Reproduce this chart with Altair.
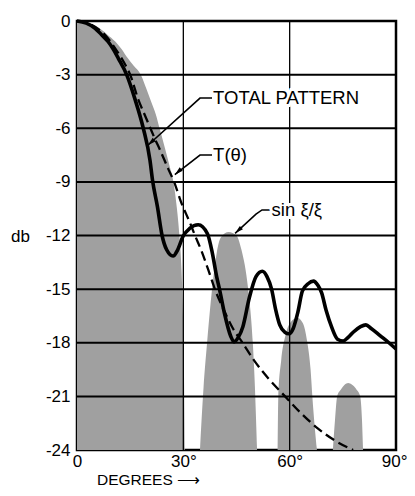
import altair as alt
import pandas as pd

# ---------------- data ----------------
# shaded sin(xi)/xi lobes (degrees, db)
lobe1_deg = [0, 3, 5.5, 8.5, 10.8, 12.5, 14.4, 16.0, 18.0, 19.6, 20.9, 22.2, 23.3, 24.8, 26.1, 27.2, 28.2, 28.9, 29.5, 29.9, 30.2, 30.4]
lobe1_db = [0, -0.1, -0.3, -0.75, -1.15, -1.55, -2.1, -2.5, -3.0, -3.8, -4.5, -5.2, -6.0, -7.1, -8.1, -9.0, -10.5, -12, -14, -16.5, -20, -24]
lobe2_deg = [34.7, 35.7, 36.7, 38.1, 39.4, 40.6, 42.8, 45.0, 46.4, 48.3, 49.6, 50.2, 50.8]
lobe2_db = [-24, -20.5, -18, -15, -13, -12.1, -11.8, -12.0, -12.8, -15, -18, -20.5, -24]
lobe3_deg = [56.6, 56.8, 57.6, 58.8, 60.5, 62.1, 63.7, 65.0, 65.9, 66.4, 67.7]
lobe3_db = [-24, -21, -19, -17.6, -16.8, -16.6, -16.9, -18, -19.5, -21, -24]
lobe4_deg = [72.2, 72.8, 73.4, 74.5, 75.5, 76.5, 77.6, 78.8, 79.9, 80.4, 80.7]
lobe4_db = [-24, -22.3, -21, -20.6, -20.35, -20.25, -20.35, -20.6, -21, -22.3, -24]

# total pattern (solid)
total_deg = [0, 2.6, 5.1, 7.0, 8.8, 10.3, 11.65, 14.0, 16.4, 18.7, 20.6, 21.3, 22.7, 24.0, 25.3, 27.1, 28.4, 29.9, 31.8, 34.2,
             36.8, 38.2, 39.4, 40.2, 41.6, 43.4, 44.3, 45.5, 46.8, 48.6, 50.5, 52.3, 53.6, 54.9, 56.0, 57.2, 58.6, 59.8,
             61.0, 62.3, 63.6, 65.2, 66.7, 68.0, 69.0, 70.3, 71.8, 73.5, 75.1, 76.5, 78.0, 80.0, 81.5, 83.0, 85.5, 88.0, 90.0]
total_db = [0, -0.12, -0.41, -0.78, -1.16, -1.6, -2.09, -3.0, -4.4, -6.0, -7.8, -8.9, -10.4, -12.0, -12.8, -13.15, -12.8, -12.05, -11.6, -11.4,
            -11.9, -13.0, -14.3, -15.0, -16.35, -17.65, -17.95, -17.7, -17.1, -15.5, -14.3, -14.0, -14.3, -15.0, -16.1, -17.0, -17.4, -17.5,
            -17.2, -16.3, -15.1, -14.7, -14.55, -14.8, -15.2, -16.2, -17.1, -17.8, -17.9, -17.7, -17.4, -17.1, -17.0, -17.2, -17.6, -18.0, -18.35]

# T(theta) (dashed)
t_deg = [0, 4, 8, 11, 13.2, 15.0, 17.3, 19.0, 20.6, 22.0, 23.4, 25.8, 27.2, 29.5, 31.9, 33.3, 35.2, 37.0, 38.9, 41.5, 44.0,
         46.7, 50, 54, 58.7, 63, 68, 73, 77.9]
t_db = [0, -0.2, -0.8, -1.6, -2.3, -3.0, -4.4, -5.2, -5.95, -6.6, -7.2, -8.3, -8.9, -10.2, -11.3, -12.0, -12.9, -13.9, -15.0, -16.2, -17.2,
        -18.0, -19.0, -20.0, -21.0, -21.9, -22.8, -23.5, -24.0]

# axis ticks / grid
x_ticks = [0, 30, 60, 90]
y_ticks = [0, -3, -6, -9, -12, -15, -18, -21, -24]
x_grid = [30, 60]
y_grid = [-3, -6, -9, -12, -15, -18, -21]

# annotations
ann_labels = ["TOTAL PATTERN", "T(θ)", "sin ξ/ξ"]
ann_deg = [38.4, 38.4, 54.9]
ann_db = [-4.31, -7.5, -10.57]
leader_id = ["a", "a", "a", "b", "b", "b", "c", "c", "c", "c"]
leader_deg = [38.1, 34.7, 20.0, 38.1, 34.7, 27.6, 54.7, 52.2, 50.5, 44.6]
leader_db = [-4.31, -4.31, -6.95, -7.5, -7.5, -8.6, -10.57, -10.57, -10.8, -11.88]
arrow_deg = [20.0, 27.6, 44.6]
arrow_db = [-6.95, -8.6, -11.88]
arrow_ang = [227.9, 228.6, 227.9]

# ---------------- tables ----------------
rows = []
for name, xs_, ys_ in [("1", lobe1_deg, lobe1_db), ("2", lobe2_deg, lobe2_db),
                       ("3", lobe3_deg, lobe3_db), ("4", lobe4_deg, lobe4_db)]:
    for a, b in zip(xs_, ys_):
        rows.append({"lobe": name, "deg": a, "db": b, "base": -24})
lobes = pd.DataFrame(rows)
total = pd.DataFrame({"deg": total_deg, "db": total_db})
tcurve = pd.DataFrame({"deg": t_deg, "db": t_db})
xg = pd.DataFrame({"deg": x_grid})
yg = pd.DataFrame({"db": y_grid})
ann = pd.DataFrame({"deg": ann_deg, "db": ann_db, "label": ann_labels})
leaders = pd.DataFrame({"id": leader_id, "deg": leader_deg, "db": leader_db})
arrows = pd.DataFrame({"deg": arrow_deg, "db": arrow_db, "ang": arrow_ang})

FONT = "Liberation Sans"
FS = 17
AFS = 18.5

xs = alt.Scale(domain=[0, 90], nice=False, zero=False)
ys = alt.Scale(domain=[-24, 0], nice=False, zero=False)
xax = alt.Axis(values=x_ticks, labelExpr="datum.value == 0 ? '0' : datum.value + '°'",
               domain=False, ticks=False, grid=False, labelFont=FONT, labelFontSize=FS,
               labelColor="black", labelPadding=3, labelFlush=False, labelOverlap=False,
               labelAlign=alt.ExprRef(expr="datum.value == 90 ? 'right' : 'center'"),
               labelOffset=alt.ExprRef(expr="datum.value == 90 ? 11 : 0"),
               title="DEGREES ⟶", titleFont=FONT, titleFontSize=15.5, titleFontWeight="normal",
               titleColor="black", titleX=71, titleY=29.5, titleAlign="center", titleBaseline="middle")
yax = alt.Axis(values=y_ticks, labelExpr="datum.value == 0 ? '0' : '-' + abs(datum.value)",
               domain=False, ticks=False, grid=False, labelFont=FONT, labelFontSize=FS,
               labelColor="black", labelPadding=7, labelFlush=False, labelOverlap=False,
               title="db", titleFont=FONT, titleFontSize=FS, titleFontWeight="normal",
               titleColor="black", titleAngle=0, titleX=-57, titleY=215,
               titleAlign="center", titleBaseline="middle")
X = alt.X("deg:Q", scale=xs, axis=xax)
Y = alt.Y("db:Q", scale=ys, axis=yax)

area = alt.Chart(lobes).mark_area(color="#a0a0a0", interpolate="monotone", opacity=1).encode(
    x=X, y=Y, y2=alt.Y2("base:Q"), detail="lobe:N")
hgrid = alt.Chart(yg).mark_rule(color="black", strokeWidth=2).encode(y=Y)
vgrid = alt.Chart(xg).mark_rule(color="black", strokeWidth=1.3).encode(x=X)
dashed = alt.Chart(tcurve).mark_line(color="black", strokeWidth=2.3, strokeDash=[10, 5],
                                     interpolate="monotone").encode(x=X, y=Y)
solid = alt.Chart(total).mark_line(color="black", strokeWidth=3.6, interpolate="monotone").encode(x=X, y=Y)
lead = alt.Chart(leaders).transform_window(idx="row_number()", groupby=["id"]).mark_line(
    color="black", strokeWidth=1.6).encode(x=X, y=Y, detail="id:N", order=alt.Order("idx:Q"))
arrow = alt.Chart(arrows).mark_point(shape="M0,0L0.6,2.2L-0.6,2.2Z", filled=True, size=60,
                                     color="black", opacity=1).encode(
    x=X, y=Y, angle=alt.Angle("ang:Q", scale=None))
halo = alt.Chart(ann).mark_text(align="left", baseline="middle", font=FONT, fontSize=AFS,
                                stroke="white", strokeWidth=6, color="white").encode(
    x=X, y=Y, text="label:N")
text = alt.Chart(ann).mark_text(align="left", baseline="middle", font=FONT, fontSize=AFS,
                                color="black").encode(x=X, y=Y, text="label:N")

chart = alt.layer(area, hgrid, vgrid, dashed, solid, lead, arrow, halo, text).properties(
    width=319, height=429,
    autosize=alt.AutoSizeParams(type="none"),
    padding={"left": 69, "top": 13, "right": 11, "bottom": 38},
    background="white",
).configure_view(stroke="black", strokeWidth=2.5)

chart.save("out.html", embed_options={"renderer": "svg", "actions": False})
